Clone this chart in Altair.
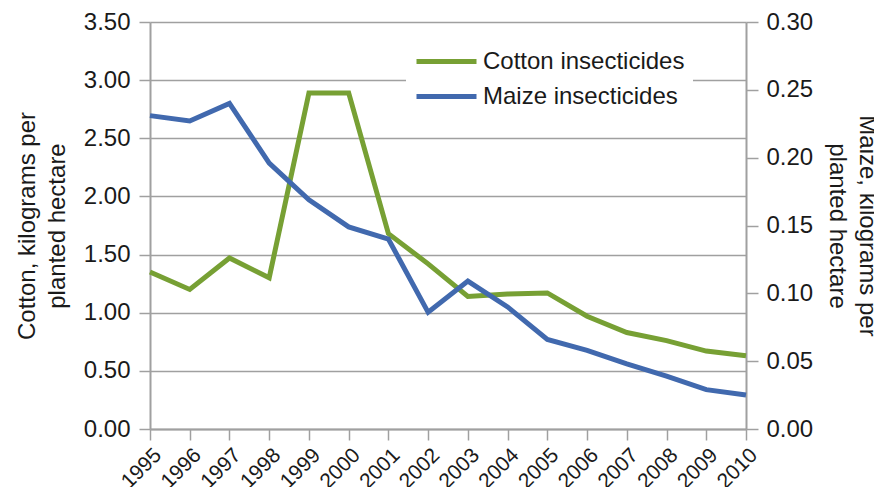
import altair as alt
import pandas as pd

years = ["1995", "1996", "1997", "1998", "1999", "2000", "2001", "2002",
         "2003", "2004", "2005", "2006", "2007", "2008", "2009", "2010"]
cotton = [1.35, 1.20, 1.47, 1.30, 2.89, 2.89, 1.68, 1.42,
          1.14, 1.16, 1.17, 0.97, 0.83, 0.76, 0.67, 0.63]
maize = [0.231, 0.227, 0.240, 0.196, 0.169, 0.149, 0.140, 0.086,
         0.109, 0.090, 0.066, 0.058, 0.048, 0.039, 0.029, 0.025]
series = ["Cotton insecticides", "Maize insecticides"]
colors = ["#77A034", "#4169AE"]
left_ticks = [0.0, 0.5, 1.0, 1.5, 2.0, 2.5, 3.0, 3.5]
right_ticks = [0.0, 0.05, 0.10, 0.15, 0.20, 0.25, 0.30]
left_title = ["Cotton, kilograms per", "planted hectare"]
right_title = ["Maize, kilograms per", "planted hectare"]

df_c = pd.DataFrame({"year": years, "value": cotton, "series": series[0]})
df_m = pd.DataFrame({"year": years, "value": maize, "series": series[1]})

FONT = "Liberation Sans"
TXT = "#1a1a1a"
GRAY = "#a0a0a0"

x = alt.X(
    "year:O",
    scale=alt.Scale(type="point", padding=0),
    axis=alt.Axis(
        title=None, labelAngle=-45, labelFont=FONT, labelFontSize=21,
        labelColor=TXT, tickSize=11, tickColor=GRAY, tickWidth=1.5,
        domainColor=GRAY, domainWidth=2, grid=False, labelPadding=4,
        labelOverlap=False,
    ),
)

color = alt.Color(
    "series:N",
    scale=alt.Scale(domain=series, range=colors),
    legend=alt.Legend(
        title=None, orient="none", legendX=256, legendY=17,
        fillColor="white", padding=8, symbolType="stroke",
        symbolSize=3600, symbolStrokeWidth=5, clipHeight=29, rowPadding=6,
        labelFont=FONT, labelFontSize=24, labelColor=TXT, labelOffset=4,
        labelLimit=500,
    ),
)

cot = alt.Chart(df_c).mark_line(strokeWidth=5).encode(
    x=x,
    y=alt.Y(
        "value:Q",
        scale=alt.Scale(domain=[0, 3.5], nice=False),
        axis=alt.Axis(
            orient="left", values=left_ticks, format=".2f", title=left_title,
            titleFont=FONT, titleFontSize=24, titleFontWeight="normal",
            titleColor=TXT, titleLineHeight=30, titlePadding=14,
            labelFont=FONT, labelFontSize=24, labelColor=TXT, labelPadding=9,
            tickSize=11, tickColor=GRAY, tickWidth=1.5,
            domainColor=GRAY, domainWidth=2,
            grid=True, gridColor=GRAY, gridWidth=1.5,
        ),
    ),
    color=color,
)

mai = alt.Chart(df_m).mark_line(strokeWidth=5).encode(
    x=x,
    y=alt.Y(
        "value:Q",
        scale=alt.Scale(domain=[0, 0.30], nice=False),
        axis=alt.Axis(
            orient="right", values=right_ticks, format=".2f", title=right_title,
            titleFont=FONT, titleFontSize=24, titleFontWeight="normal",
            titleColor=TXT, titleLineHeight=30, titlePadding=12,
            labelFont=FONT, labelFontSize=24, labelColor=TXT, labelPadding=8,
            tickSize=12, tickColor=GRAY, tickWidth=1.5,
            domainColor=GRAY, domainWidth=2, grid=False,
        ),
    ),
    color=color,
)

chart = (
    alt.layer(cot, mai)
    .resolve_scale(y="independent")
    .properties(
        width=596, height=407,
        padding={"left": 142, "top": 14, "right": 128, "bottom": 58},
        autosize="none",
        background="white",
    )
    .configure_view(strokeWidth=0)
)

chart.save("out.html", embed_options={"renderer": "svg", "actions": False})
